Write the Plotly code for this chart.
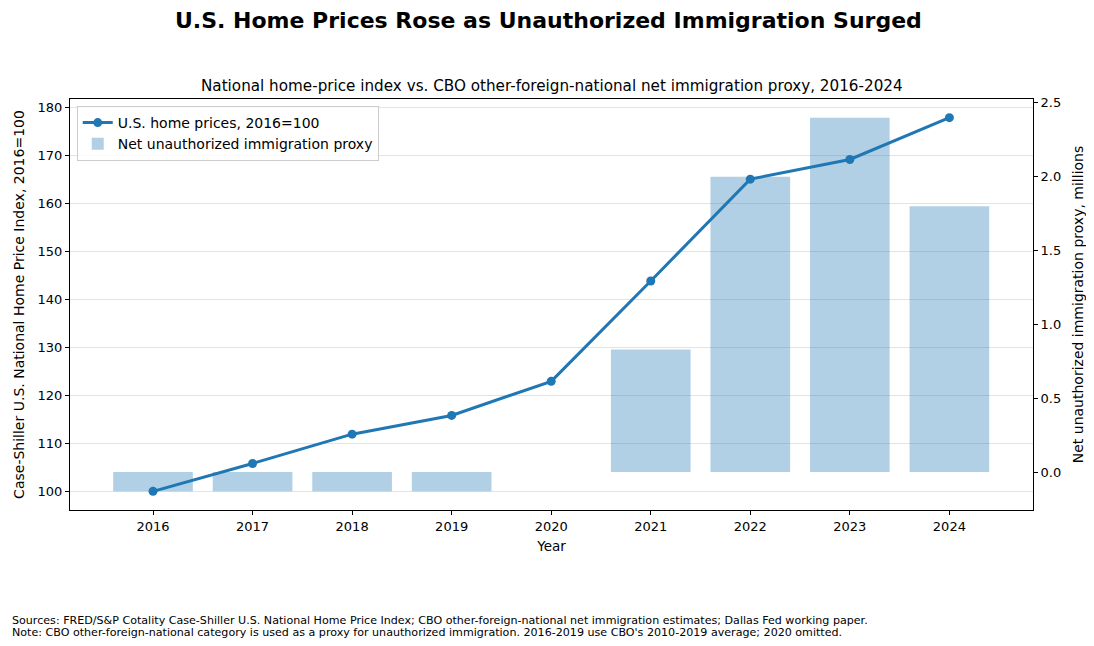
import plotly.graph_objects as go

# --- Data ---
years = [2016, 2017, 2018, 2019, 2020, 2021, 2022, 2023, 2024]
home_price_index = [100.0, 105.8, 111.9, 115.8, 122.9, 143.8, 165.0, 169.1, 177.8]

bar_years = [2016, 2017, 2018, 2019, 2021, 2022, 2023, 2024]
immigration_millions = [-0.13, -0.13, -0.13, -0.13, 0.83, 2.0, 2.4, 1.8]

footer_lines = [
    "Sources: FRED/S&P Cotality Case-Shiller U.S. National Home Price Index; "
    "CBO other-foreign-national net immigration estimates; Dallas Fed working paper.",
    "Note: CBO other-foreign-national category is used as a proxy for unauthorized immigration. "
    "2016-2019 use CBO's 2010-2019 average; 2020 omitted.",
]

blue = "#1f77b4"
font = "DejaVu Sans"


def padded(values, pad=0.05):
    lo, hi = min(values), max(values)
    span = hi - lo
    return [lo - pad * span, hi + pad * span]


fig = go.Figure()

# line goes on y2 (drawn on top), bars on y (drawn below)
fig.add_trace(
    go.Scatter(
        x=years,
        y=home_price_index,
        mode="lines+markers",
        name="U.S. home prices, 2016=100",
        line=dict(color=blue, width=3),
        marker=dict(color=blue, size=9),
        yaxis="y2",
    )
)
fig.add_trace(
    go.Bar(
        x=bar_years,
        y=immigration_millions,
        width=0.8,
        name="Net unauthorized immigration proxy",
        marker=dict(color="rgba(31,119,180,0.35)", line=dict(width=0)),
        yaxis="y",
    )
)

# page body has an 8px margin, so the figure is 8px smaller each way
fig.update_layout(
    width=1078,
    height=630,
    paper_bgcolor="white",
    plot_bgcolor="white",
    font=dict(family=font, size=13, color="black"),
    margin=dict(l=62, r=53, t=91, b=128, autoexpand=False),
    showlegend=True,
    legend=dict(
        x=0.007,
        y=0.983,
        xanchor="left",
        yanchor="top",
        bgcolor="rgba(255,255,255,0.8)",
        bordercolor="#cccccc",
        borderwidth=1,
        font=dict(size=14),
        tracegroupgap=0,
    ),
    xaxis=dict(
        range=[2015.166, 2024.84],
        tickvals=years,
        ticktext=[str(y) for y in years],
        title=dict(text="Year", font=dict(size=13.5), standoff=8),
        showgrid=False,
        zeroline=False,
        showline=True,
        linecolor="black",
        linewidth=1,
        mirror=True,
        ticks="outside",
        ticklen=4,
        tickcolor="black",
        automargin=False,
    ),
    yaxis=dict(
        side="right",
        range=padded(immigration_millions),
        tickvals=[0.0, 0.5, 1.0, 1.5, 2.0, 2.5],
        ticktext=["0.0", "0.5", "1.0", "1.5", "2.0", "2.5"],
        title=dict(text="Net unauthorized immigration proxy, millions", font=dict(size=14), standoff=17),
        showgrid=False,
        zeroline=False,
        showline=True,
        linecolor="black",
        linewidth=1,
        ticks="outside",
        ticklen=4,
        tickcolor="black",
        automargin=False,
    ),
    yaxis2=dict(
        side="left",
        overlaying="y",
        range=padded(home_price_index),
        tickvals=[100, 110, 120, 130, 140, 150, 160, 170, 180],
        title=dict(text="Case-Shiller U.S. National Home Price Index, 2016=100", font=dict(size=14), standoff=9),
        showgrid=True,
        gridcolor="rgba(128,128,128,0.22)",
        gridwidth=1,
        zeroline=False,
        showline=True,
        linecolor="black",
        linewidth=1,
        ticks="outside",
        ticklen=4,
        tickcolor="black",
        automargin=False,
    ),
)

# Titles
fig.add_annotation(
    text="<b>U.S. Home Prices Rose as Unauthorized Immigration Surged</b>",
    xref="paper", yref="paper", x=0.5, y=1.0, xshift=-3, yshift=79,
    xanchor="center", yanchor="middle", showarrow=False,
    font=dict(size=22, family=font),
)
fig.add_annotation(
    text="National home-price index vs. CBO other-foreign-national net immigration proxy, 2016-2024",
    xref="paper", yref="paper", x=0.5, y=1.0, yshift=13,
    xanchor="center", yanchor="middle", showarrow=False,
    font=dict(size=15.2, family=font),
)

# Footer note, one annotation per line for tighter spacing
for i, line in enumerate(footer_lines):
    fig.add_annotation(
        text=line,
        xref="paper", yref="paper", x=0, y=0, xshift=-60, yshift=-110 - 12 * i,
        xanchor="left", yanchor="middle", align="left", showarrow=False,
        font=dict(size=11.1, family=font),
    )

fig.write_html("out.html")
